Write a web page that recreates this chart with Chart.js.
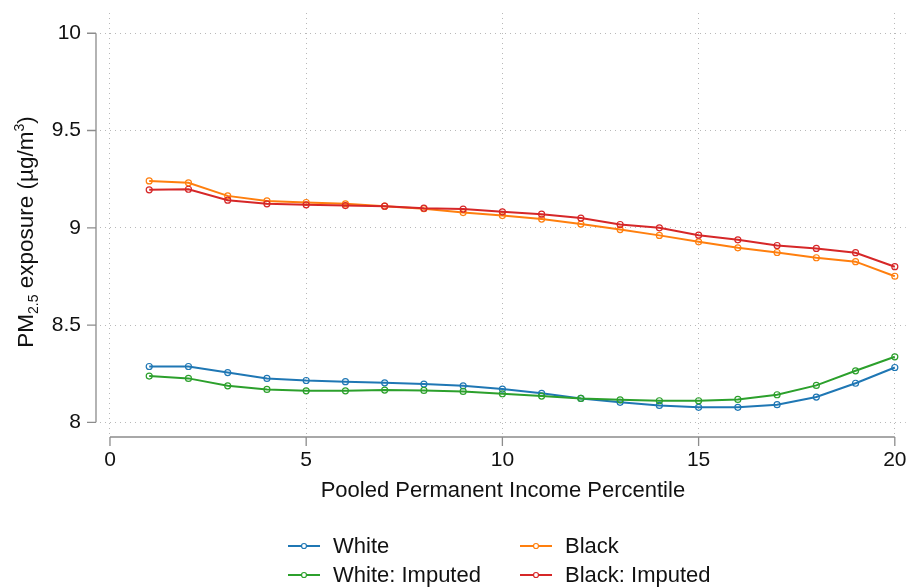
<!DOCTYPE html>
<html>
<head>
<meta charset="utf-8">
<script src="https://cdn.jsdelivr.net/npm/chart.js@4.4.1/dist/chart.umd.min.js"></script>
<style>
  html, body { margin: 0; padding: 0; background: #fff; }
  #wrap { width: 911px; height: 588px; }
</style>
</head>
<body>
<div id="wrap"><canvas id="pmChart" width="911" height="588"></canvas></div>
<script>
// values
const percentiles = [1, 2, 3, 4, 5, 6, 7, 8, 9, 10, 11, 12, 13, 14, 15, 16, 17, 18, 19, 20];
const white = [8.287, 8.287, 8.256, 8.226, 8.215, 8.209, 8.203, 8.197, 8.188, 8.171, 8.149, 8.123, 8.103, 8.087, 8.077, 8.077, 8.091, 8.130, 8.201, 8.282];
const whiteImputed = [8.238, 8.226, 8.188, 8.169, 8.162, 8.162, 8.166, 8.164, 8.159, 8.147, 8.135, 8.123, 8.116, 8.111, 8.111, 8.118, 8.142, 8.190, 8.265, 8.337];
const black = [9.241, 9.231, 9.164, 9.138, 9.130, 9.123, 9.111, 9.098, 9.078, 9.063, 9.045, 9.019, 8.991, 8.961, 8.928, 8.897, 8.873, 8.846, 8.826, 8.751];
const blackImputed = [9.195, 9.198, 9.142, 9.123, 9.118, 9.114, 9.111, 9.101, 9.096, 9.082, 9.070, 9.050, 9.017, 9.000, 8.962, 8.938, 8.909, 8.894, 8.872, 8.800];

const xTicks = [0, 5, 10, 15, 20];
const yTicks = [8, 8.5, 9, 9.5, 10];
const xTitle = 'Pooled Permanent Income Percentile';
const seriesNames = ['White', 'Black', 'White: Imputed', 'Black: Imputed'];

const FONT = "'Liberation Sans', Arial, Helvetica, sans-serif";
const AXIS_GRAY = '#8c8c8c';

const toPoints = (ys) => ys.map((y, i) => ({ x: percentiles[i], y: y }));

function makeSet(label, values, color, order) {
    return {
        label: label,
        data: toPoints(values),
        borderColor: color,
        backgroundColor: color,
        borderWidth: 2,
        pointRadius: 3,
        pointBorderWidth: 1.2,
        pointBackgroundColor: 'rgba(0,0,0,0)',
        pointBorderColor: color,
        tension: 0,
        order: order
    };
}

// Stata-style axes sitting a little off the plot region
const axesPlugin = {
    id: 'offsetAxes',
    afterDraw(chart) {
        const ctx = chart.ctx;
        const area = chart.chartArea;
        const xs = chart.scales.x, ys = chart.scales.y;
        ctx.save();
        ctx.strokeStyle = AXIS_GRAY;
        ctx.lineWidth = 1.3;

        // y axis
        const ax = area.left - 4;
        ctx.beginPath();
        ctx.moveTo(ax, ys.getPixelForValue(yTicks[0]));
        ctx.lineTo(ax, ys.getPixelForValue(yTicks[yTicks.length - 1]));
        yTicks.forEach(v => {
            const py = ys.getPixelForValue(v);
            ctx.moveTo(ax, py);
            ctx.lineTo(ax - 9, py);
        });
        ctx.stroke();

        // x axis
        const ay = area.bottom + 2;
        ctx.beginPath();
        ctx.moveTo(xs.getPixelForValue(xTicks[0]), ay);
        ctx.lineTo(xs.getPixelForValue(xTicks[xTicks.length - 1]), ay);
        xTicks.forEach(v => {
            const px = xs.getPixelForValue(v);
            ctx.moveTo(px, ay);
            ctx.lineTo(px, ay + 9);
        });
        ctx.stroke();

        // y title with sub/superscript
        const parts = [
            { t: 'PM', size: 22.5, shift: 0 },
            { t: '2.5', size: 14, shift: 5 },
            { t: ' exposure (\u00b5g/m', size: 22.5, shift: 0 },
            { t: '3', size: 14, shift: -9 },
            { t: ')', size: 22.5, shift: 0 }
        ];
        let total = 0;
        parts.forEach(p => { ctx.font = p.size + 'px ' + FONT; p.w = ctx.measureText(p.t).width; total += p.w; });
        ctx.translate(33, 232);
        ctx.rotate(-Math.PI / 2);
        ctx.fillStyle = '#111';
        ctx.textBaseline = 'alphabetic';
        let cx = -total / 2;
        parts.forEach(p => {
            ctx.font = p.size + 'px ' + FONT;
            ctx.fillText(p.t, cx, p.shift);
            cx += p.w;
        });
        ctx.restore();

        // legend, two columns
        ctx.save();
        ctx.font = '22px ' + FONT;
        ctx.textBaseline = 'middle';
        const colX = [288, 520];
        const rowY = [546, 575];
        chart.data.datasets.forEach((ds) => {
            const idx = seriesNames.indexOf(ds.label);
            const x0 = colX[idx % 2], y0 = rowY[Math.floor(idx / 2)];
            ctx.strokeStyle = ds.borderColor;
            ctx.lineWidth = 2;
            ctx.beginPath();
            ctx.moveTo(x0, y0);
            ctx.lineTo(x0 + 32, y0);
            ctx.stroke();
            ctx.fillStyle = '#fff';
            ctx.lineWidth = 1.2;
            ctx.beginPath();
            ctx.arc(x0 + 16, y0, 2.5, 0, Math.PI * 2);
            ctx.fill();
            ctx.stroke();
            ctx.fillStyle = '#111';
            ctx.fillText(ds.label, x0 + 45, y0 + 1);
        });
        ctx.restore();
    }
};

const gridOpts = {
    color: '#b8b8b8',
    lineWidth: 1,
    drawTicks: false
};
const borderOpts = { display: false, dash: [1, 4] };

new Chart(document.getElementById('pmChart'), {
    type: 'line',
    data: {
        datasets: [
            makeSet('White', white, '#1f77b4', 4),
            makeSet('Black', black, '#ff7f0e', 3),
            makeSet('White: Imputed', whiteImputed, '#2ca02c', 2),
            makeSet('Black: Imputed', blackImputed, '#d62728', 1)
        ]
    },
    options: {
        responsive: false,
        animation: false,
        layout: { padding: { top: 13, right: 4, left: 0, bottom: 0 } },
        plugins: { legend: { display: false }, tooltip: { enabled: false } },
        scales: {
            x: {
                type: 'linear',
                min: -0.254,
                max: 20.28,
                border: borderOpts,
                grid: gridOpts,
                afterBuildTicks: (s) => { s.ticks = xTicks.map(v => ({ value: v })); },
                afterFit: (s) => {
                    s.height = 153;
                    s.paddingLeft = 0; s.paddingRight = 0;
                },
                ticks: {
                    autoSkip: false,
                    maxRotation: 0,
                    padding: 13,
                    color: '#111',
                    font: { family: FONT, size: 21 },
                    callback: (v) => String(v)
                },
                title: {
                    display: true,
                    text: xTitle,
                    color: '#111',
                    font: { family: FONT, size: 22 },
                    padding: { top: 0, bottom: 84 }
                }
            },
            y: {
                min: 7.935,
                max: 10.104,
                border: borderOpts,
                grid: gridOpts,
                afterBuildTicks: (s) => { s.ticks = yTicks.map(v => ({ value: v })); },
                afterFit: (s) => {
                    s.width = 100;
                    s.paddingTop = 0; s.paddingBottom = 0;
                },
                ticks: {
                    autoSkip: false,
                    padding: 19,
                    color: '#111',
                    font: { family: FONT, size: 21 },
                    callback: (v) => String(v)
                }
            }
        }
    },
    plugins: [axesPlugin]
});
</script>
</body>
</html>
